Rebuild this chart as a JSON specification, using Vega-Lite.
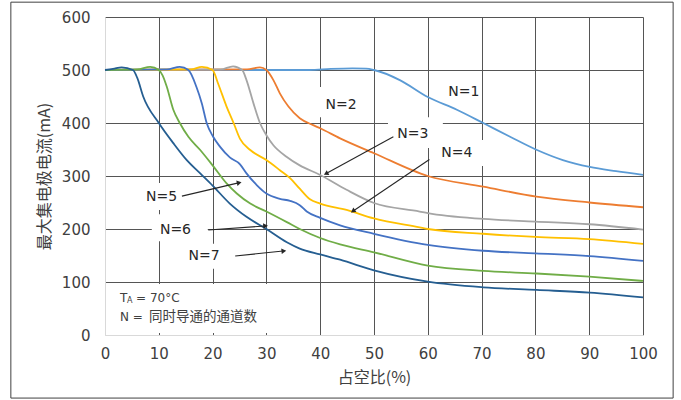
{
  "$schema": "https://vega.github.io/schema/vega-lite/v6.json",
  "autosize": {"type": "none"},
  "width": 538,
  "height": 318,
  "padding": {"left": 105, "top": 17, "right": 38, "bottom": 65},
  "background": "white",
  "config": {"view": {"stroke": null}, "font": "DejaVu Sans"},
  "datasets": {
    "curves": [
      {"N":"N=1","x":0,"y":500},{"N":"N=1","x":38,"y":500},{"N":"N=1","x":42,"y":502},{"N":"N=1","x":46,"y":503},{"N":"N=1","x":48.5,"y":502.5},{"N":"N=1","x":50,"y":500},{"N":"N=1","x":54.8,"y":481},{"N":"N=1","x":60,"y":449},{"N":"N=1","x":65.4,"y":425},{"N":"N=1","x":70.3,"y":400},{"N":"N=1","x":75.3,"y":374},{"N":"N=1","x":80.3,"y":349},{"N":"N=1","x":85.1,"y":330},{"N":"N=1","x":90.1,"y":317},{"N":"N=1","x":95,"y":309},{"N":"N=1","x":100,"y":302},
      {"N":"N=2","x":0,"y":500},{"N":"N=2","x":26.4,"y":501},{"N":"N=2","x":28.8,"y":505},{"N":"N=2","x":30,"y":500},{"N":"N=2","x":31.3,"y":481},{"N":"N=2","x":32.5,"y":456},{"N":"N=2","x":34.1,"y":431},{"N":"N=2","x":36.2,"y":409},{"N":"N=2","x":38.7,"y":396},{"N":"N=2","x":40,"y":390},{"N":"N=2","x":43.7,"y":371},{"N":"N=2","x":50,"y":343},{"N":"N=2","x":60,"y":300},{"N":"N=2","x":70.3,"y":280},{"N":"N=2","x":80.2,"y":261},{"N":"N=2","x":90,"y":250},{"N":"N=2","x":100,"y":241},
      {"N":"N=3","x":0,"y":500},{"N":"N=3","x":21.5,"y":501},{"N":"N=3","x":23.8,"y":507},{"N":"N=3","x":25.5,"y":500},{"N":"N=3","x":26.3,"y":481},{"N":"N=3","x":27.6,"y":437},{"N":"N=3","x":28.8,"y":400},{"N":"N=3","x":30,"y":377},{"N":"N=3","x":31.3,"y":358},{"N":"N=3","x":33.8,"y":336},{"N":"N=3","x":36.2,"y":320},{"N":"N=3","x":40,"y":302},{"N":"N=3","x":44.9,"y":274},{"N":"N=3","x":50,"y":249},{"N":"N=3","x":58.5,"y":233},{"N":"N=3","x":60,"y":230},{"N":"N=3","x":70.3,"y":219},{"N":"N=3","x":80,"y":214},{"N":"N=3","x":90,"y":209},{"N":"N=3","x":100,"y":199},
      {"N":"N=4","x":0,"y":500},{"N":"N=4","x":16,"y":501},{"N":"N=4","x":18,"y":506},{"N":"N=4","x":20,"y":500},{"N":"N=4","x":21,"y":475},{"N":"N=4","x":22.6,"y":431},{"N":"N=4","x":23.9,"y":400},{"N":"N=4","x":25.1,"y":370},{"N":"N=4","x":27,"y":349},{"N":"N=4","x":30,"y":330},{"N":"N=4","x":32.5,"y":311},{"N":"N=4","x":34.4,"y":296},{"N":"N=4","x":36.2,"y":276},{"N":"N=4","x":38.1,"y":256},{"N":"N=4","x":40,"y":248},{"N":"N=4","x":44.9,"y":236},{"N":"N=4","x":50,"y":220},{"N":"N=4","x":58.5,"y":203},{"N":"N=4","x":60,"y":200},{"N":"N=4","x":70.3,"y":191},{"N":"N=4","x":80,"y":185},{"N":"N=4","x":90,"y":181},{"N":"N=4","x":100,"y":172},
      {"N":"N=5","x":0,"y":500},{"N":"N=5","x":11.5,"y":501},{"N":"N=5","x":13.9,"y":506},{"N":"N=5","x":15.5,"y":500},{"N":"N=5","x":17,"y":468},{"N":"N=5","x":18,"y":437},{"N":"N=5","x":18.9,"y":400},{"N":"N=5","x":20.1,"y":374},{"N":"N=5","x":21.4,"y":355},{"N":"N=5","x":23.2,"y":335},{"N":"N=5","x":25.1,"y":322},{"N":"N=5","x":26.3,"y":305},{"N":"N=5","x":28.2,"y":283},{"N":"N=5","x":30,"y":267},{"N":"N=5","x":32.5,"y":257},{"N":"N=5","x":34.4,"y":253},{"N":"N=5","x":36.2,"y":245},{"N":"N=5","x":37.5,"y":233},{"N":"N=5","x":40,"y":221},{"N":"N=5","x":43.7,"y":207},{"N":"N=5","x":50,"y":191},{"N":"N=5","x":60,"y":170},{"N":"N=5","x":70.3,"y":159},{"N":"N=5","x":80,"y":154},{"N":"N=5","x":90,"y":149},{"N":"N=5","x":100,"y":140},
      {"N":"N=6","x":0,"y":500},{"N":"N=6","x":6,"y":501},{"N":"N=6","x":8.4,"y":506},{"N":"N=6","x":10,"y":500},{"N":"N=6","x":10.7,"y":490},{"N":"N=6","x":11.5,"y":468},{"N":"N=6","x":12.7,"y":425},{"N":"N=6","x":13.9,"y":400},{"N":"N=6","x":15.5,"y":374},{"N":"N=6","x":17.7,"y":349},{"N":"N=6","x":20,"y":320},{"N":"N=6","x":22.6,"y":286},{"N":"N=6","x":24.5,"y":267},{"N":"N=6","x":27,"y":248},{"N":"N=6","x":30,"y":233},{"N":"N=6","x":33.8,"y":213},{"N":"N=6","x":36.2,"y":200},{"N":"N=6","x":40,"y":183},{"N":"N=6","x":43.7,"y":171},{"N":"N=6","x":50,"y":156},{"N":"N=6","x":60,"y":131},{"N":"N=6","x":70.3,"y":121},{"N":"N=6","x":80.2,"y":116},{"N":"N=6","x":90,"y":110},{"N":"N=6","x":100,"y":102},
      {"N":"N=7","x":0,"y":500},{"N":"N=7","x":1.5,"y":502},{"N":"N=7","x":3.1,"y":505},{"N":"N=7","x":5.2,"y":500},{"N":"N=7","x":6,"y":485},{"N":"N=7","x":7.1,"y":450},{"N":"N=7","x":10,"y":400},{"N":"N=7","x":12.7,"y":362},{"N":"N=7","x":15.2,"y":330},{"N":"N=7","x":17.7,"y":305},{"N":"N=7","x":20,"y":282},{"N":"N=7","x":23.2,"y":248},{"N":"N=7","x":26.3,"y":223},{"N":"N=7","x":30,"y":200},{"N":"N=7","x":33.8,"y":175},{"N":"N=7","x":36.2,"y":163},{"N":"N=7","x":40,"y":152},{"N":"N=7","x":43.7,"y":142},{"N":"N=7","x":50,"y":122},{"N":"N=7","x":60,"y":100.6},{"N":"N=7","x":70.3,"y":90},{"N":"N=7","x":80.2,"y":85},{"N":"N=7","x":90.1,"y":80},{"N":"N=7","x":100,"y":71}
    ],
    "labels": [
      {"text":"N=1","x":66.7,"y":458},
      {"text":"N=2","x":43.9,"y":434},
      {"text":"N=3","x":57.2,"y":379},
      {"text":"N=4","x":65.4,"y":343},
      {"text":"N=5","x":10.5,"y":261},
      {"text":"N=6","x":13.1,"y":199},
      {"text":"N=7","x":18.4,"y":149}
    ],
    "boxes": [
      {"x":39.2,"x2":48.5,"y":411,"y2":468},
      {"x":52.6,"x2":62.8,"y":353,"y2":411},
      {"x":61.3,"x2":71,"y":319,"y2":368},
      {"x":6.5,"x2":14.5,"y":236,"y2":287},
      {"x":8.7,"x2":19.1,"y":177,"y2":228},
      {"x":14.5,"x2":22.3,"y":125,"y2":172},
      {"x":0.2,"x2":31.5,"y":4,"y2":96}
    ],
    "arrows": [
      {"x":53.6,"y":374,"x2":41.2,"y2":305},
      {"x":60.3,"y":331,"x2":46.2,"y2":234.5},
      {"x":14.3,"y":262,"x2":24.8,"y2":287},
      {"x":19.2,"y":198,"x2":29.7,"y2":205.7},
      {"x":24.2,"y":149,"x2":33.1,"y2":158.5}
    ]
  },
  "encoding": {
    "x": {
      "field": "x", "type": "quantitative",
      "scale": {"domain": [0, 100], "nice": false, "zero": false},
      "axis": {
        "values": [0,10,20,30,40,50,60,70,80,90,100],
        "title": "占空比(%)",
        "grid": true,
        "gridColor": {"condition": {"test": "datum.value === 0", "value": "#D9D9D9"}, "value": "#555555"},
        "gridWidth": 1,
        "domainColor": "#D9D9D9",
        "ticks": false,
        "labelPadding": 11,
        "labelFontSize": 15,
        "labelColor": "#404040",
        "labelFont": "DejaVu Sans",
        "labelFlush": false,
        "titleFont": "Noto Sans CJK SC",
        "titleFontSize": 16,
        "titleFontWeight": "normal",
        "titleColor": "#404040",
        "titlePadding": 8
      }
    },
    "y": {
      "field": "y", "type": "quantitative",
      "scale": {"domain": [0, 600], "nice": false},
      "axis": {
        "values": [0,100,200,300,400,500,600],
        "title": "最大集电极电流(mA)",
        "grid": true,
        "gridColor": {"condition": {"test": "datum.value === 0", "value": "#D9D9D9"}, "value": "#555555"},
        "gridWidth": 1,
        "domainColor": "#D9D9D9",
        "ticks": false,
        "labelPadding": 15,
        "labelFontSize": 15,
        "labelColor": "#404040",
        "labelFont": "DejaVu Sans",
        "labelFlush": false,
        "titleFont": "Noto Sans CJK SC",
        "titleFontSize": 16,
        "titleFontWeight": "normal",
        "titleColor": "#404040",
        "titlePadding": 9
      }
    }
  },
  "layer": [
    {
      "data": {"values": [{"x": -17.5, "x2": 105.6, "y": 628, "y2": -119}]},
      "mark": {"type": "rect", "fill": null, "filled": false, "stroke": "#404040", "strokeWidth": 1},
      "encoding": {
        "x2": {"field": "x2"},
        "y2": {"field": "y2"}
      }
    },
    {
      "data": {"name": "boxes"},
      "mark": {"type": "rect", "fill": "white", "stroke": null},
      "encoding": {
        "x2": {"field": "x2"},
        "y2": {"field": "y2"}
      }
    },
    {
      "data": {"name": "curves"},
      "mark": {"type": "line", "interpolate": "monotone", "strokeWidth": 1.8},
      "encoding": {
        "color": {
          "field": "N", "type": "nominal",
          "scale": {
            "domain": ["N=1","N=2","N=3","N=4","N=5","N=6","N=7"],
            "range": ["#5B9BD5","#ED7D31","#A5A5A5","#FFC000","#4472C4","#70AD47","#255E91"]
          },
          "legend": null
        }
      }
    },
    {
      "data": {"name": "arrows"},
      "mark": {"type": "rule", "color": "#262626", "strokeWidth": 1.1},
      "encoding": {
        "x2": {"field": "x2"},
        "y2": {"field": "y2"}
      }
    },
    {
      "data": {"name": "arrows"},
      "transform": [
        {"calculate": "(atan2((datum.x2 - datum.x) * 5.38, (datum.y2 - datum.y) * 0.53) * 180 / PI + 360) % 360", "as": "ang"}
      ],
      "mark": {"type": "point", "shape": "triangle", "filled": true, "size": 30, "color": "#262626", "opacity": 1},
      "encoding": {
        "x": {"field": "x2", "type": "quantitative"},
        "y": {"field": "y2", "type": "quantitative"},
        "angle": {"field": "ang", "type": "quantitative", "scale": null}
      }
    },
    {
      "data": {"name": "labels"},
      "mark": {"type": "text", "fontSize": 14, "color": "#262626", "font": "DejaVu Sans", "align": "center", "baseline": "middle"},
      "encoding": {
        "text": {"field": "text"}
      }
    },
    {
      "data": {"values": [{"x": 2.8, "y": 70, "t": "T"}]},
      "mark": {"type": "text", "fontSize": 12, "color": "#404040", "font": "DejaVu Sans", "align": "left", "baseline": "middle"},
      "encoding": {"text": {"field": "t"}}
    },
    {
      "data": {"values": [{"x": 2.8, "y": 70, "t": "A"}]},
      "mark": {"type": "text", "fontSize": 8, "color": "#404040", "font": "DejaVu Sans", "align": "left", "baseline": "middle", "dx": 7, "dy": 3},
      "encoding": {"text": {"field": "t"}}
    },
    {
      "data": {"values": [{"x": 2.8, "y": 70, "t": "= 70°C"}]},
      "mark": {"type": "text", "fontSize": 12, "color": "#404040", "font": "DejaVu Sans", "align": "left", "baseline": "middle", "dx": 16},
      "encoding": {"text": {"field": "t"}}
    },
    {
      "data": {"values": [{"x": 2.8, "y": 34, "t": "N ="}]},
      "mark": {"type": "text", "fontSize": 12, "color": "#404040", "font": "DejaVu Sans", "align": "left", "baseline": "middle"},
      "encoding": {"text": {"field": "t"}}
    },
    {
      "data": {"values": [{"x": 2.8, "y": 34, "t": "同时导通的通道数"}]},
      "mark": {"type": "text", "fontSize": 13.5, "color": "#404040", "font": "Noto Sans CJK SC", "align": "left", "baseline": "middle", "dx": 29},
      "encoding": {"text": {"field": "t"}}
    }
  ]
}
